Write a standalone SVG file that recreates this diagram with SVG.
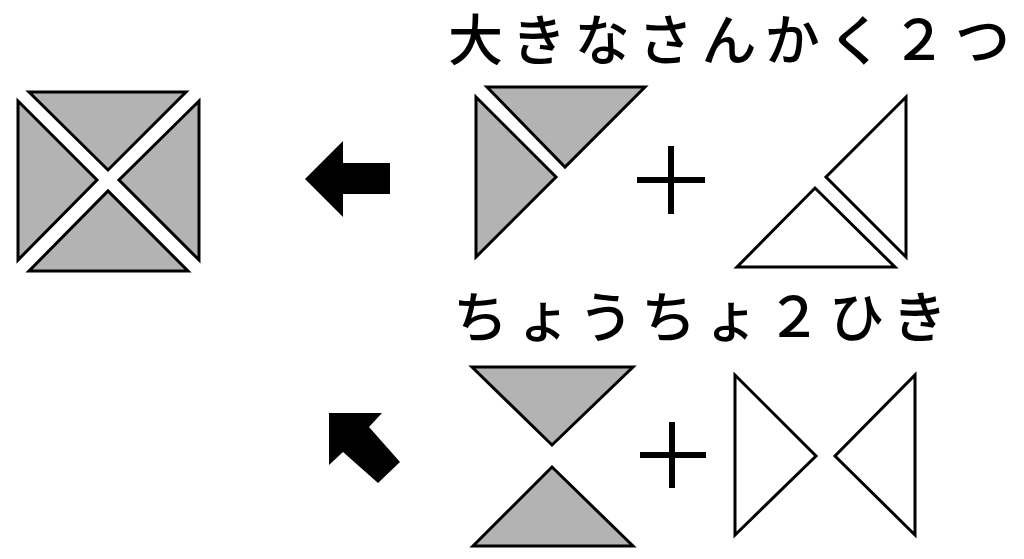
<svg xmlns="http://www.w3.org/2000/svg" width="1024" height="559" viewBox="0 0 1024 559">
<style>
.g{fill:#b3b3b3;stroke:#000;stroke-width:3;stroke-linejoin:miter}
.w{fill:#fff;stroke:#000;stroke-width:3;stroke-linejoin:miter}
.plus{stroke:#000;stroke-width:6;fill:none}
.arrow{fill:#000}
.lbl{font-family:"Noto Sans CJK JP","Noto Sans",sans-serif;font-size:55px;font-weight:500;fill:#000}
</style>
<rect width="1024" height="559" fill="#fff"/>
<g id="square">
<polygon class="g" points="29,92 186,92 108,170"/>
<polygon class="g" points="18,101 18,260 97,180"/>
<polygon class="g" points="199,101 199,260 119,180"/>
<polygon class="g" points="29,271 188,271 108,191"/>
</g>
<g id="connectors">
<polygon class="arrow" points="305,179 343,141 343,163 390,163 390,194 343,194 343,217"/>
<polygon class="arrow" points="329,413 382,413 369,427 400,462 378,483 343,452 329,465"/>
</g>
<g id="label-top">
<text class="lbl" x="448" y="60" textLength="562" lengthAdjust="spacing">大きなさんかく２つ</text>
</g>
<g id="big-triangles">
<polygon class="g" points="476,97 476,257 556,177"/>
<polygon class="g" points="487,87 645,87 565,167"/>
</g>
<g id="plus-top">
<line class="plus" x1="637" y1="180" x2="705" y2="180"/>
<line class="plus" x1="671" y1="146" x2="671" y2="214"/>
</g>
<g id="big-triangles-white">
<polygon class="w" points="906,97 906,257 826,177"/>
<polygon class="w" points="737,267 895,267 815,188"/>
</g>
<g id="label-bottom">
<text class="lbl" x="453" y="337" textLength="494" lengthAdjust="spacing">ちょうちょ２ひき</text>
</g>
<g id="butterfly-gray">
<polygon class="g" points="472,367 633,367 552,445"/>
<polygon class="g" points="473,546 633,546 552,467"/>
</g>
<g id="plus-bottom">
<line class="plus" x1="640" y1="455" x2="706" y2="455"/>
<line class="plus" x1="672" y1="422" x2="672" y2="488"/>
</g>
<g id="butterfly-white">
<polygon class="w" points="735,375 735,535 816,456"/>
<polygon class="w" points="915,375 915,535 835,456"/>
</g>
</svg>
